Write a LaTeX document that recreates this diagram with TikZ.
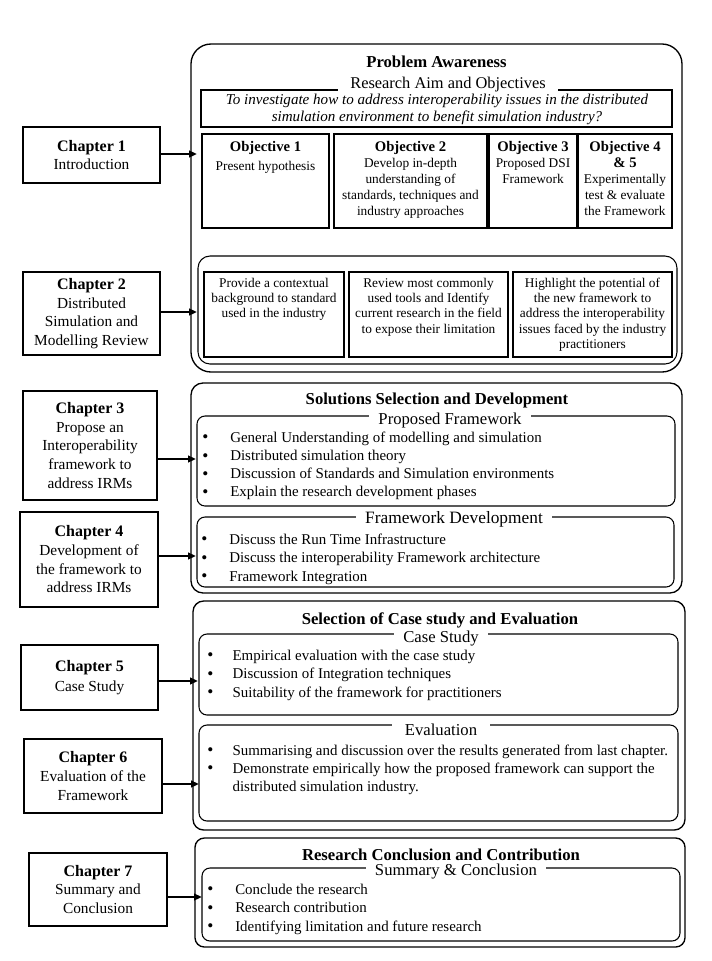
\documentclass[tikz,border=0pt]{standalone}
\usepackage{fontspec}
\setmainfont{Liberation Serif}
\usetikzlibrary{arrows.meta}
\newcommand\mkbox[6]{\node[#2, minimum width={(#5-#3)*0.75pt}, minimum height={(#6-#4)*0.75pt}] (#1) at ({(#3+#5)/2},{(#4+#6)/2}) {};}
\newcommand\mkchap[6]{\node[chap, minimum width={(#4-#2)*0.75pt}, minimum height={(#5-#3)*0.75pt}] (#1) at ({(#2+#4)/2},{(#3+#5)/2}) {#6};}
\newcommand\ct[1]{{\fontsize{12}{14}\bfseries #1}}
\newcommand\ot[1]{{\fontsize{11}{12}\bfseries #1}}
\newcommand\bul[1][19pt]{\makebox[#1][l]{\raisebox{-0.6pt}{\fontsize{13}{13}\selectfont\textbullet}}}
\newcommand\tl[2][c]{\begin{tabular}[t]{@{}#1@{}}#2\end{tabular}}
\begin{document}
\begin{tikzpicture}[x=0.75pt,y=-0.75pt,
  outer/.style={draw, line width=1pt, inner sep=0},
  inner/.style={draw, line width=0.8pt, rounded corners=6pt, inner sep=0},
  rbox/.style={draw, line width=0.9pt, inner sep=0},
  chap/.style={draw, line width=0.9pt, align=center, inner sep=0, font=\fontsize{11.5}{14}\selectfont},
  arr/.style={line width=1.5pt, -{Triangle[length=6pt,width=5pt]}},
  head/.style={fill=white, inner xsep=7pt, inner ysep=1pt, anchor=base, font=\fontsize{12.5}{14}\selectfont},
  ttl/.style={anchor=base, inner sep=0, font=\fontsize{12.5}{14}\bfseries},
  blist/.style={anchor=base west, inner sep=0, font=\fontsize{11.2}{13.8}\selectfont},
  otxt/.style={anchor=base, inner sep=0, font=\fontsize{10}{12}\selectfont},
  rtxt/.style={anchor=base, inner sep=0, font=\fontsize{10}{11.6}\selectfont}
]
\useasboundingbox (0,0) rectangle (711,961);

% ---------- Box 1: Problem Awareness ----------
\mkbox{pa}{outer, rounded corners=15pt}{191}{44}{682}{372}
\node[ttl] (patitle) at (436.5,67) {Problem Awareness};
\mkbox{aim}{rbox}{201}{90}{672}{127}
\node[head, font=\fontsize{12.3}{14}\selectfont, inner xsep=9pt] (aimhead) at (448,88) {Research Aim and Objectives};
\node[anchor=base, inner sep=0, font=\fontsize{11.3}{12.75}\itshape] (aimtxt) at (437,104.5)
  {\tl{To investigate how to address interoperability issues in the distributed\\simulation environment to benefit simulation industry?}};

\mkbox{o1}{rbox}{202}{134}{329}{228}
\mkbox{o2}{rbox}{334}{134}{487}{228}
\mkbox{o3}{rbox}{489}{134}{577}{228}
\mkbox{o4}{rbox}{578}{134}{672}{228}
\node[otxt] (o1t) at (265.5,151) {\tl{\ot{Objective 1}\\[2.25pt]Present hypothesis}};
\node[otxt] (o2t) at (410.5,151) {\tl{\ot{Objective 2}\\Develop in-depth\\understanding of\\standards, techniques and\\industry approaches}};
\node[otxt] (o3t) at (533,151) {\tl{\ot{Objective 3}\\Proposed DSI\\[0.5pt]Framework}};
\node[otxt] (o4t) at (625,151) {\tl{\ot{Objective 4}\\\ot{\& 5}\\Experimentally\\test \& evaluate\\the Framework}};

\mkbox{rv}{draw, line width=0.8pt, rounded corners=9pt, inner sep=0}{198}{256}{677}{364}
\mkbox{r1}{rbox}{204}{272}{344}{357}
\mkbox{r2}{rbox}{349}{272}{508}{357}
\mkbox{r3}{rbox}{513}{272}{672}{357}
\node[rtxt] (r1t) at (274,287) {\tl{Provide a contextual\\background to standard\\used in the industry}};
\node[rtxt] (r2t) at (428.5,287) {\tl{Review most commonly\\used tools and Identify\\current research in the field\\to expose their limitation}};
\node[rtxt] (r3t) at (592.5,287) {\tl{Highlight the potential of\\the new framework to\\address the interoperability\\issues faced by the industry\\practitioners}};

% ---------- Box 2: Solutions ----------
\mkbox{sd}{outer, rounded corners=9pt}{191}{383}{682}{593}
\node[ttl] (sdtitle) at (437,404) {Solutions Selection and Development};
\mkbox{pf}{inner}{197}{416}{675}{506}
\node[head] (pfhead) at (450,424) {Proposed Framework};
\node[blist, font=\fontsize{11.2}{13.7}\selectfont] (pflist) at (202,442)
  {\tl[l]{\bul[21pt]General Understanding of modelling and simulation\\
   \bul[21pt]Distributed simulation theory\\
   \bul[21pt]Discussion of Standards and Simulation environments\\
   \bul[21pt]Explain the research development phases}};
\mkbox{fd}{inner}{197}{517}{674}{587}
\node[head, font=\fontsize{13}{14}\selectfont] (fdhead) at (454,523) {Framework Development};
\node[blist, font=\fontsize{11.2}{13.9}\selectfont] (fdlist) at (201,544)
  {\tl[l]{\bul[21pt]Discuss the Run Time Infrastructure\\
   \bul[21pt]Discuss the interoperability Framework architecture\\
   \bul[21pt]Framework Integration}};

% ---------- Box 3: Case study ----------
\mkbox{ce}{outer, rounded corners=8pt}{193}{601}{685}{830}
\node[ttl] (cetitle) at (440,624) {Selection of Case study and Evaluation};
\mkbox{cs}{inner}{199}{634}{678}{715}
\node[head] (cshead) at (441,642) {Case Study};
\node[blist, font=\fontsize{11.2}{13.9}\selectfont] (cslist) at (207,660)
  {\tl[l]{\bul[19pt]Empirical evaluation with the case study\\
   \bul[19pt]Discussion of Integration techniques\\
   \bul[19pt]Suitability of the framework for practitioners}};
\mkbox{ev}{inner}{199}{725}{678}{821}
\node[head, inner xsep=10pt] (evhead) at (441,735) {Evaluation};
\node[blist, font=\fontsize{11.2}{13.5}\selectfont] (evlist) at (207,755)
  {\tl[l]{\bul[19pt]Summarising and discussion over the results generated from last chapter.\\
   \bul[19pt]Demonstrate empirically how the proposed framework can support the\\
   \hspace*{19pt}distributed simulation industry.}};

% ---------- Box 4: Conclusion ----------
\mkbox{rc}{outer, rounded corners=7pt}{195}{838}{685}{947}
\node[ttl] (rctitle) at (441,860) {Research Conclusion and Contribution};
\mkbox{sc}{inner}{202}{868}{680}{941}
\node[head] (schead) at (456,875) {Summary \& Conclusion};
\node[blist, font=\fontsize{11.2}{13.9}\selectfont] (sclist) at (207,894)
  {\tl[l]{\bul[21pt]Conclude the research\\
   \bul[21pt]Research contribution\\
   \bul[21pt]Identifying limitation and future research}};

% ---------- Chapters ----------
\mkchap{ch1}{23}{127}{160}{183}{\ct{Chapter 1}\\Introduction}
\mkchap{ch2}{23}{272}{160}{355}{\ct{Chapter 2}\\Distributed\\Simulation and\\Modelling Review}
\mkchap{ch3}{23}{391}{157}{500}{\ct{Chapter 3}\\Propose an\\Interoperability\\framework to\\address IRMs}
\mkchap{ch4}{20}{512}{158}{607}{\ct{Chapter 4}\\Development of\\the framework to\\address IRMs}
\mkchap{ch5}{21}{645}{158}{710}{\ct{Chapter 5}\\[1pt]Case Study}
\mkchap{ch6}{24}{739}{162}{813}{\ct{Chapter 6}\\Evaluation of the\\Framework}
\mkchap{ch7}{29}{853}{167}{926}{\ct{Chapter 7}\\Summary and\\Conclusion}

% ---------- Arrows ----------
\coordinate (a1) at (197,154);
\coordinate (a2) at (197,312);
\coordinate (a3) at (196,459);
\coordinate (a4) at (196,556);
\coordinate (a5) at (198,681);
\coordinate (a6) at (199,784);
\coordinate (a7) at (202,897);
\draw[arr] (ch1.east |- a1) -- (a1);
\draw[arr] (ch2.east |- a2) -- (a2);
\draw[arr] (ch3.east |- a3) -- (a3);
\draw[arr] (ch4.east |- a4) -- (a4);
\draw[arr] (ch5.east |- a5) -- (a5);
\draw[arr] (ch6.east |- a6) -- (a6);
\draw[arr] (ch7.east |- a7) -- (a7);
\end{tikzpicture}
\end{document}
